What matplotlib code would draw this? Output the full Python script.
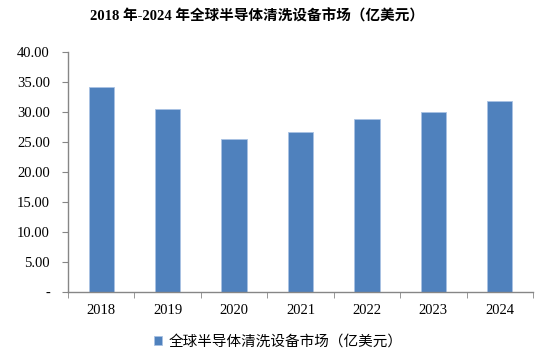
import numpy as np
import matplotlib.pyplot as plt
from matplotlib.ticker import FuncFormatter

years = ['2018', '2019', '2020', '2021', '2022', '2023', '2024']
market = [34.1, 30.55, 25.43, 26.7, 28.77, 30.05, 31.83]
series_name = '全球半导体清洗设备市场（亿美元）'
title = '2018 年-2024 年全球半导体清洗设备市场（亿美元）'

fonts = ['Liberation Serif', 'Noto Sans CJK SC', 'DejaVu Sans']
plt.rcParams['font.family'] = fonts

fig = plt.figure(figsize=(5.54, 3.57), dpi=100)
ax = fig.add_axes([68 / 554, 1 - 292 / 357, (533 - 68) / 554, 240 / 357])

x = np.arange(len(years))
ax.bar(x, market, width=0.38, color='#4F81BD', label=series_name,
       edgecolor='#A9C2E3', linewidth=0.6)

ax.set_xlim(-0.5, len(years) - 0.5)
ax.set_ylim(0, 40)
ax.set_yticks(np.arange(0, 40.1, 5))
ax.yaxis.set_major_formatter(FuncFormatter(lambda v, p: '-' if v == 0 else '%.2f' % v))
ax.set_xticks(x)
ax.set_xticklabels(years)
ax.set_xticks(np.arange(-0.5, len(years), 1), minor=True)

for s in ['top', 'right']:
    ax.spines[s].set_visible(False)
for s in ['left', 'bottom']:
    ax.spines[s].set_color('#868686')
    ax.spines[s].set_linewidth(1)

ax.tick_params(axis='y', length=4, color='#868686', labelsize=10.5, pad=9)
ax.tick_params(axis='x', which='major', length=0, labelsize=10.5, pad=9)
ax.tick_params(axis='x', which='minor', length=4, color='#868686')

fig.text(257 / 554, 1 - 16 / 357, title, ha='center', va='center', fontsize=10.5,
         fontweight='bold')

fig.legend(loc='center', bbox_to_anchor=(278 / 554, 1 - 342 / 357), frameon=False,
           fontsize=10.5, handlelength=0.6, handleheight=0.6, handletextpad=0.4)

fig.savefig('out.png', dpi=100)
